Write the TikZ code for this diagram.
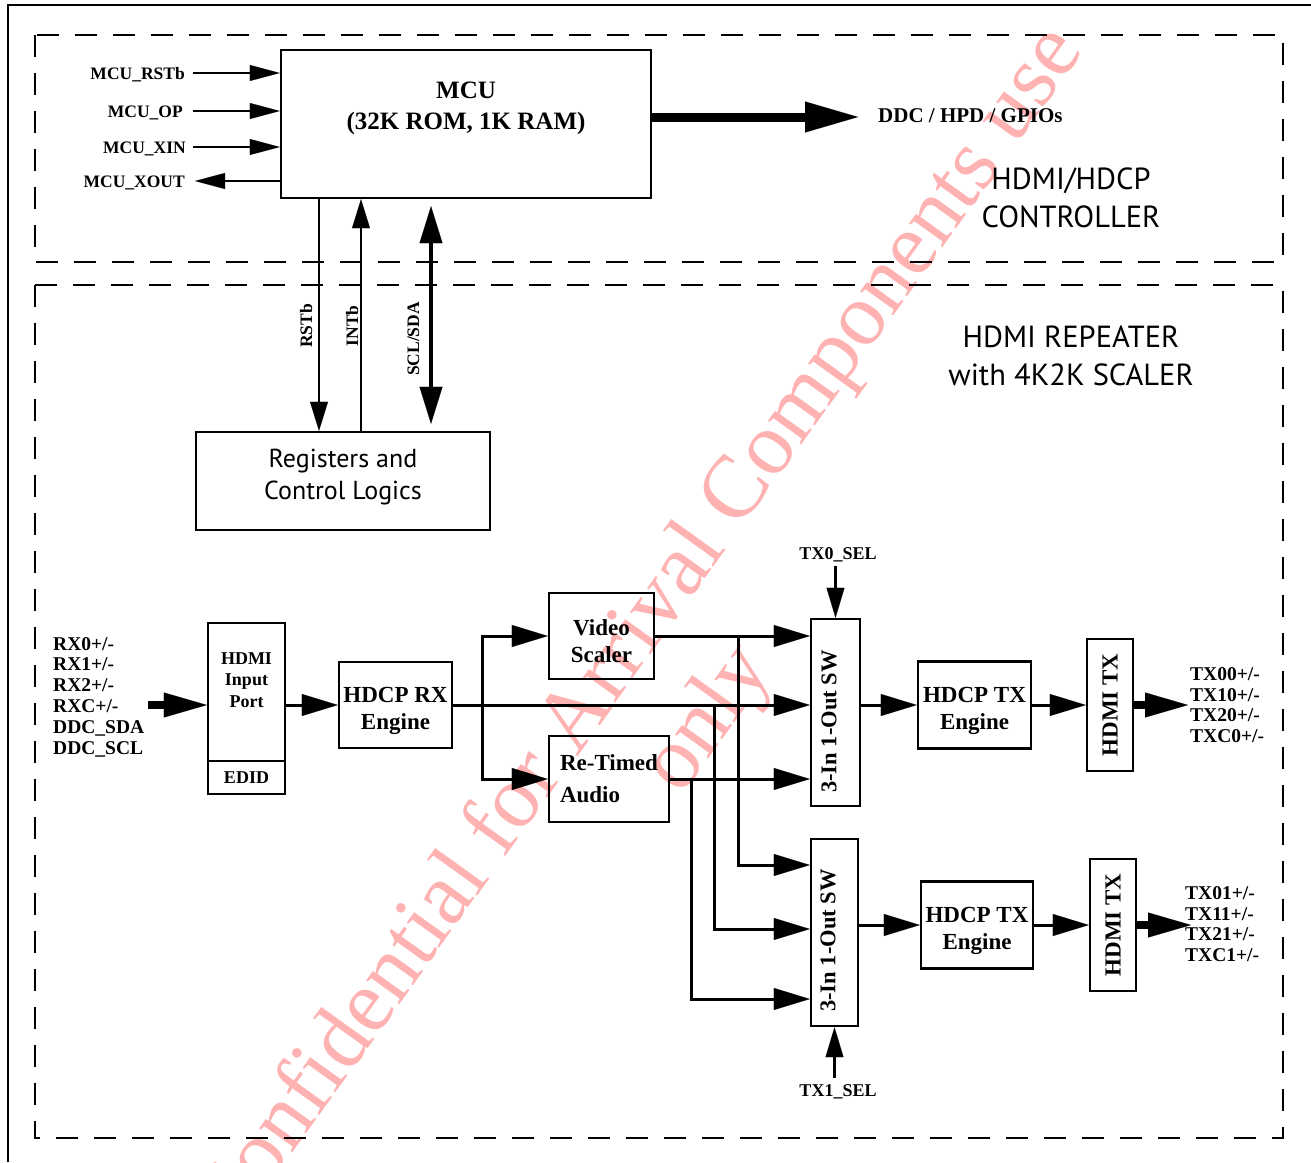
\documentclass[tikz,border=0pt]{standalone}
\usepackage{fontspec}
\usepackage{graphicx}
\setmainfont{Liberation Serif}
\newfontfamily\labelsans{PT Sans}
\usetikzlibrary{positioning,arrows.meta,calc}

\begin{document}
\begin{tikzpicture}[x=1pt, y=-1pt,
    blk/.style={draw, line width=2.4pt, inner sep=0pt, align=center,
                font=\fontsize{23}{27}\selectfont\bfseries},
    txtlow/.style={text height=54pt},
    pin/.style={inner sep=0pt, text height=12pt, text depth=0pt,
                font=\fontsize{17.5}{20}\selectfont\bfseries},
    bus/.style={inner sep=0pt, align=left,
                font=\fontsize{19.5}{20.8}\selectfont\bfseries},
    ttl/.style={inner sep=0pt, align=center,
                font=\labelsans\fontsize{30.5}{38.5}\selectfont},
    wmark/.style={text=red!30, rotate=54.3, inner sep=0pt,
                  font=\fontsize{89}{100}\selectfont},
    region/.style={draw, line width=2pt, dash pattern=on 22pt off 16pt},
    ar/.style={-{Triangle[length=36pt,width=22pt,line width=0.1pt]}, line width=3pt},
    pinar/.style={-{Triangle[length=30pt,width=16pt,line width=0.1pt]}, line width=2pt},
    linkar/.style={-{Triangle[length=29pt,width=18pt,line width=0.1pt]}, line width=2.5pt},
    i2car/.style={{Triangle[length=37pt,width=23pt,line width=0.1pt]}-{Triangle[length=37pt,width=23pt,line width=0.1pt]},
                  line width=4.5pt, shorten <=7pt, shorten >=7pt},
    selar/.style={-{Triangle[length=30pt,width=18pt,line width=0.1pt]}, line width=2.5pt},
    busar/.style={-{Triangle[length=43pt,width=25pt,line width=0.1pt]}, line width=8.5pt},
    ddcar/.style={-{Triangle[length=53pt,width=31pt,line width=0.1pt]}, line width=9pt},
  ]
  \useasboundingbox (0,0) rectangle (1311,1162);

  % watermark, behind everything
  \node[wmark] (wm1) at (640,632) {Confidential for Arrival Components use};
  \node[wmark] (wm2) at (710,720) {only};

  % frame and the two regions
  \draw[line width=2pt] (8,1162) -- (8,5) -- (1311,5);
  \draw[region] (35,35) rectangle (1283,262);
  \draw[region] (35,285) rectangle (1283,1138);
  \node[ttl] (ctl) at (1071,198) {HDMI/HDCP\\CONTROLLER};
  \node[ttl] (rep) at (1071,356) {HDMI REPEATER\\with 4K2K SCALER};

  % controller
  \node[blk, minimum width=370pt, minimum height=148pt] (mcu) at (466,124) {};
  \node[inner sep=0pt, align=center, font=\fontsize{25}{31}\selectfont\bfseries]
    (mcut) at (466,108) {MCU\\(32K ROM, 1K RAM)};
  \node[pin, anchor=east] (prst) at (185,73) {MCU\_RSTb};
  \node[pin, anchor=east] (pop) at (183,111) {MCU\_OP};
  \node[pin, anchor=east] (pxin) at (186,147) {MCU\_XIN};
  \node[pin, anchor=east] (pxout) at (185,181) {MCU\_XOUT};
  \draw[pinar] ([xshift=8pt]prst.east) -- (prst.east -| mcu.west);
  \draw[pinar] ([xshift=10pt]pop.east) -- (pop.east -| mcu.west);
  \draw[pinar] ([xshift=7pt]pxin.east) -- (pxin.east -| mcu.west);
  \draw[pinar] (pxout.east -| mcu.west) -- ([xshift=10pt]pxout.east);
  \coordinate (ddc) at (858,117);
  \draw[ddcar] (mcu.east |- ddc) -- (ddc);
  \node[pin, anchor=west, font=\fontsize{21}{24}\selectfont\bfseries] (ddct) at (878,116)
    {DDC / HPD / GPIOs};

  % registers and the links to the MCU
  \node[blk, minimum width=294pt, minimum height=98pt,
        execute at end node={\rule[-13pt]{0pt}{13pt}},
        font=\labelsans\fontsize{26}{32}\selectfont] (reg) at (343,481)
    {Registers and\\Control Logics};
  \coordinate (xr) at (319,0);
  \coordinate (xi) at (361,0);
  \coordinate (xs) at (431,0);
  \draw[linkar] (mcu.south -| xr) -- (reg.north -| xr);
  \draw[linkar] (reg.north -| xi) -- (mcu.south -| xi);
  \draw[i2car] (mcu.south -| xs) -- (reg.north -| xs);
  \node[pin, rotate=90] (lrst) at (306,326) {RSTb};
  \node[pin, rotate=90] (lint) at (352,326) {INTb};
  \node[pin, rotate=90] (li2c) at (413,339) {SCL/SDA};

  % receive side
  \node[bus, anchor=west] (rxin) at (53,697)
    {RX0+/-\\RX1+/-\\RX2+/-\\RXC+/-\\DDC\_SDA\\DDC\_SCL};
  \node[blk, minimum width=77pt, minimum height=171pt] (hin) at (246.5,708.5) {};
  \coordinate (ediv) at (0,761);
  \draw[line width=2.4pt] (hin.west |- ediv) -- (hin.east |- ediv);
  \node[inner sep=0pt, align=center, font=\fontsize{18}{21.5}\selectfont\bfseries]
    (hint) at (246.5,680) {HDMI\\Input\\Port};
  \node[inner sep=0pt, font=\fontsize{18}{21.5}\selectfont\bfseries]
    (edid) at (246.5,777.5) {EDID};
  \coordinate (rxa) at (148,705);
  \draw[busar] (rxa) -- (rxa -| hin.west);

  \node[blk, txtlow, minimum width=113pt, minimum height=86pt] (rx) at (395.5,705) {HDCP RX\\Engine};
  \node[blk, txtlow, minimum width=105pt, minimum height=86pt] (vsc) at (601.5,636) {Video\\Scaler};
  \node[blk, minimum width=120pt, minimum height=86pt, align=left,
        font=\fontsize{23}{32}\selectfont\bfseries] (aud) at (609,779) {Re-Timed\\Audio};
  \draw[ar] (hin.east |- rx) -- (rx.west);
  \coordinate (jrx) at (482,0);
  \draw[ar] (rx.east -| jrx) |- (vsc.west);
  \draw[ar] (rx.east -| jrx) |- (aud.west);

  % switches
  \node[blk, minimum width=49pt, minimum height=187pt] (sw0) at (835.5,712.5) {};
  \node[blk, minimum width=47pt, minimum height=187pt] (sw1) at (834.5,932.5) {};
  \node[inner sep=0pt, font=\fontsize{22.5}{26}\selectfont\bfseries]
    (sw0t) at ([xshift=-6.5pt,yshift=-9pt]sw0.center) {\rotatebox{90}{3-In 1-Out SW}};
  \node[inner sep=0pt, font=\fontsize{22.5}{26}\selectfont\bfseries]
    (sw1t) at ([xshift=-6.5pt,yshift=-8pt]sw1.center) {\rotatebox{90}{3-In 1-Out SW}};
  \draw[ar] (vsc.east) -- (vsc.east -| sw0.west);
  \draw[ar] (rx.east) -- (rx.east -| sw0.west);
  \draw[ar] (aud.east) -- (aud.east -| sw0.west);
  \coordinate (jv) at (738,865);
  \coordinate (jr) at (714,929);
  \coordinate (ja) at (691,999);
  \draw[ar] (vsc.east -| jv) -- (jv) -- (jv -| sw1.west);
  \draw[ar] (rx.east -| jr) -- (jr) -- (jr -| sw1.west);
  \draw[ar] (aud.east -| ja) -- (ja) -- (ja -| sw1.west);
  \node[pin, font=\fontsize{18}{21}\selectfont\bfseries] (sel0) at (838,553) {TX0\_SEL};
  \node[pin, font=\fontsize{18}{21}\selectfont\bfseries] (sel1) at (838,1090) {TX1\_SEL};
  \draw[selar, shorten <=7pt] (sw0.north |- sel0.south) -- (sw0.north);
  \draw[selar, shorten <=6pt] (sw1.south |- sel1.north) -- (sw1.south);

  % transmit side
  \node[blk, txtlow, minimum width=113pt, minimum height=87pt] (tx0) at (974.5,705) {HDCP TX\\Engine};
  \node[blk, txtlow, minimum width=112pt, minimum height=87pt] (tx1) at (977,925) {HDCP TX\\Engine};
  \node[blk, minimum width=46pt, minimum height=132pt] (hd0) at (1110,705) {\rotatebox{90}{HDMI TX}};
  \node[blk, minimum width=46pt, minimum height=132pt] (hd1) at (1113,925) {\rotatebox{90}{HDMI TX}};
  \draw[ar] (sw0.east |- tx0) -- (tx0.west);
  \draw[ar] (sw1.east |- tx1) -- (tx1.west);
  \draw[ar] (tx0.east) -- (tx0.east -| hd0.west);
  \draw[ar] (tx1.east) -- (tx1.east -| hd1.west);
  \coordinate (o0) at (1188,705);
  \coordinate (o1) at (1191,925);
  \draw[busar] (hd0.east |- o0) -- (o0);
  \draw[busar] (hd1.east |- o1) -- (o1);
  \node[bus, anchor=west] (txo0) at (1190,705) {TX00+/-\\TX10+/-\\TX20+/-\\TXC0+/-};
  \node[bus, anchor=west] (txo1) at (1185,924) {TX01+/-\\TX11+/-\\TX21+/-\\TXC1+/-};
\end{tikzpicture}
\end{document}
